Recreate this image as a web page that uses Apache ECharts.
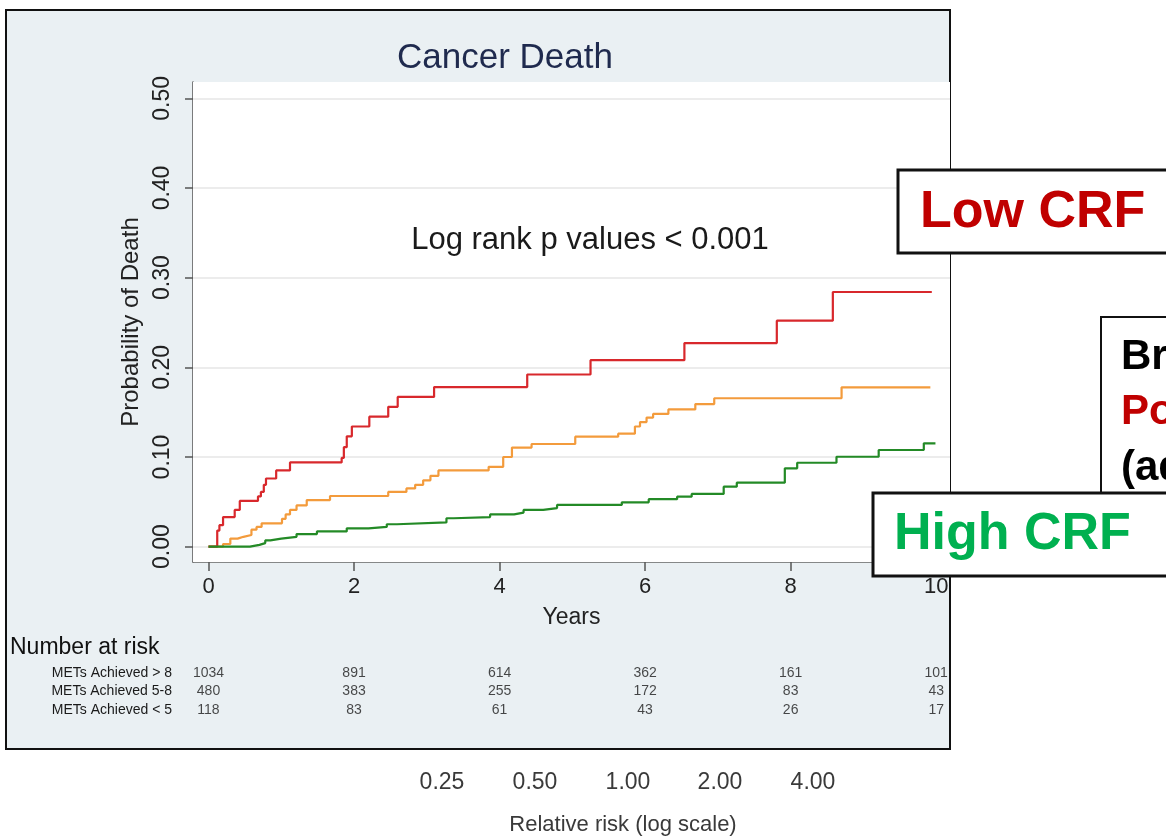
<!DOCTYPE html>
<html>
<head>
<meta charset="utf-8">
<script src="https://cdn.jsdelivr.net/npm/echarts@6/dist/echarts.min.js"></script>
<style>html,body{margin:0;padding:0;background:#fff}#c{width:1166px;height:836px}</style>
</head>
<body>
<div id="c"></div>
<script>
// ---- data ----
const xTicks = [0, 2, 4, 6, 8, 10];
const yTicks = [0, 0.1, 0.2, 0.3, 0.4, 0.5];
const riskGroups = ['METs Achieved > 8', 'METs Achieved 5-8', 'METs Achieved < 5'];
const riskHigh = [1034, 891, 614, 362, 161, 101];
const riskMid = [480, 383, 255, 172, 83, 43];
const riskLow = [118, 83, 61, 43, 26, 17];
const relRiskTicks = ['0.25', '0.50', '1.00', '2.00', '4.00'];

// Kaplan-Meier style cumulative probability of death: [years, probability]
const curveLowMets = [[0,0],[0.12,0.018],[0.15,0.024],[0.20,0.033],[0.36,0.041],[0.43,0.051],[0.68,0.056],[0.72,0.061],[0.76,0.069],[0.79,0.076],[0.93,0.085],[1.12,0.094],[1.83,0.099],[1.86,0.111],[1.90,0.123],[1.97,0.134],[2.21,0.145],[2.47,0.156],[2.60,0.167],[3.10,0.178],[4.38,0.192],[5.25,0.208],[6.54,0.227],[7.81,0.252],[8.58,0.284],[9.94,0.284]];
const curveMidMets = [[0,0],[0.20,0.003],[0.30,0.009],[0.40,0.011],[0.48,0.013],[0.59,0.019],[0.66,0.022],[0.73,0.026],[1.01,0.031],[1.06,0.036],[1.12,0.041],[1.21,0.046],[1.35,0.052],[1.67,0.0565],[2.47,0.061],[2.72,0.065],[2.84,0.069],[2.95,0.074],[3.05,0.079],[3.16,0.085],[3.85,0.089],[4.05,0.100],[4.17,0.1105],[4.44,0.1145],[5.04,0.1227],[5.63,0.126],[5.86,0.134],[5.93,0.139],[6.02,0.144],[6.11,0.148],[6.32,0.153],[6.69,0.159],[6.95,0.1655],[8.70,0.1777],[9.92,0.1777]];
const curveHighMets = [[0,0],[0.57,0.002],[0.70,0.004],[0.78,0.007],[0.85,0.009],[1.00,0.011],[1.21,0.014],[1.49,0.017],[1.90,0.0205],[2.20,0.022],[2.45,0.025],[2.59,0.027],[3.27,0.0317],[3.37,0.033],[3.87,0.036],[4.20,0.038],[4.33,0.041],[4.60,0.043],[4.79,0.0465],[5.68,0.0495],[6.05,0.053],[6.44,0.0557],[6.64,0.0588],[7.08,0.0669],[7.26,0.0714],[7.92,0.0874],[8.09,0.0936],[8.63,0.1003],[9.21,0.1078],[9.83,0.1153],[9.99,0.1153]];

// ---- build ----
const FONT = '"Liberation Sans", Arial, Helvetica, sans-serif';
const X_MIN = -0.213, X_MAX = 10.19;
const Y_MIN = -0.0171, Y_MAX = 0.5182;

const riskRows = [riskHigh, riskMid, riskLow];
const riskData = [];
riskRows.forEach((row, r) => row.forEach((n, i) => riskData.push([xTicks[i], r, n])));

const chart = echarts.init(document.getElementById('c'), null, {renderer: 'canvas'});

const option = {
  backgroundColor: '#ffffff',
  animation: false,
  grid: [
    {left: 193, right: 216, top: 82, bottom: 274, show: true, backgroundColor: '#ffffff', borderWidth: 0, z: 1},
    {left: 193, right: 216, top: 664, height: 55}
  ],
  xAxis: [
    {
      type: 'value', gridIndex: 0, min: X_MIN, max: X_MAX,
      name: 'Years', nameLocation: 'middle', nameGap: 44,
      nameTextStyle: {fontFamily: FONT, fontSize: 23, color: '#222'},
      axisLine: {show: true, onZero: false, lineStyle: {color: '#666', width: 1.5}},
      axisTick: {show: true, length: 9, lineStyle: {color: '#555', width: 1.5}, customValues: xTicks},
      axisLabel: {fontFamily: FONT, fontSize: 22, color: '#222', margin: 14, customValues: xTicks},
      splitLine: {show: false}
    },
    {
      type: 'value', gridIndex: 1, min: X_MIN, max: X_MAX, show: false
    }
  ],
  yAxis: [
    {
      type: 'value', gridIndex: 0, min: Y_MIN, max: Y_MAX,
      name: 'Probability of Death', nameLocation: 'middle', nameGap: 45,
      nameTextStyle: {fontFamily: FONT, fontSize: 24, color: '#222'},
      axisLine: {show: true, onZero: false, lineStyle: {color: '#555', width: 1.5}},
      axisTick: {show: true, length: 8, lineStyle: {color: '#555', width: 1.5}, customValues: yTicks},
      axisLabel: {fontFamily: FONT, fontSize: 23, color: '#222', rotate: 90, margin: 19,
        customValues: yTicks, formatter: v => Number(v).toFixed(2)},
      splitLine: {show: false}
    },
    {
      type: 'category', gridIndex: 1, data: riskGroups, inverse: true,
      axisLine: {show: false}, axisTick: {show: false}, splitLine: {show: false},
      axisLabel: {fontFamily: FONT, fontSize: 14, color: '#1a1a1a', margin: 21}
    }
  ],
  series: [
    {type: 'line', name: 'METs Achieved < 5', xAxisIndex: 0, yAxisIndex: 0, step: 'end', data: curveLowMets,
      showSymbol: false, lineStyle: {color: '#d8282c', width: 2.2}, z: 5,
      markLine: {silent: true, symbol: 'none', label: {show: false}, z: 2,
        lineStyle: {color: '#e6e6e6', width: 1.5, type: 'solid'},
        data: yTicks.map(v => ({yAxis: v}))}},
    {type: 'line', name: 'METs Achieved 5-8', xAxisIndex: 0, yAxisIndex: 0, step: 'end', data: curveMidMets,
      showSymbol: false, lineStyle: {color: '#f39b3c', width: 2.2}, z: 4},
    {type: 'line', name: 'METs Achieved > 8', xAxisIndex: 0, yAxisIndex: 0, step: 'end', data: curveHighMets,
      showSymbol: false, lineStyle: {color: '#238a26', width: 2.2}, z: 6},
    {type: 'scatter', name: 'Number at risk', xAxisIndex: 1, yAxisIndex: 1, data: riskData,
      symbolSize: 0.1, itemStyle: {color: 'transparent'},
      label: {show: true, position: 'inside', formatter: p => String(p.value[2]),
        fontFamily: FONT, fontSize: 14, color: '#1a1a1a'}}
  ],
  graphic: [
    // panel background and border
    {type: 'rect', z: -10, shape: {x: 6, y: 10, width: 944, height: 739},
      style: {fill: '#eaf0f3', stroke: '#111', lineWidth: 2}},
    {type: 'text', z: 10, style: {text: 'Cancer Death', x: 505, y: 58, align: 'center', verticalAlign: 'middle',
      font: '35px ' + FONT, fill: '#1f2a4e'}},
    {type: 'text', z: 10, style: {text: 'Log rank p values < 0.001', x: 590, y: 240, align: 'center', verticalAlign: 'middle',
      font: '31px ' + FONT, fill: '#1a1a1a'}},
    {type: 'text', z: 10, style: {text: 'Number at risk', x: 10, y: 648, align: 'left', verticalAlign: 'middle',
      font: '23px ' + FONT, fill: '#111'}},
    // remnants below the panel
    ...relRiskTicks.map((t, i) => ({type: 'text', z: 10,
      style: {text: t, x: [442, 535, 628, 720, 813][i], y: 783, align: 'center', verticalAlign: 'middle',
        font: '23px ' + FONT, fill: '#3a3a3a'}})),
    {type: 'text', z: 10, style: {text: 'Relative risk (log scale)', x: 623, y: 825, align: 'center', verticalAlign: 'middle',
      font: '22px ' + FONT, fill: '#3a3a3a'}},
    // annotation boxes on the right
    {type: 'rect', z: 100, shape: {x: 898, y: 170, width: 300, height: 83},
      style: {fill: '#fff', stroke: '#111', lineWidth: 3}},
    {type: 'text', z: 101, style: {text: 'Low CRF', x: 920, y: 213, align: 'left', verticalAlign: 'middle',
      font: 'bold 52px ' + FONT, fill: '#c00000'}},
    {type: 'rect', z: 100, shape: {x: 1101, y: 317, width: 100, height: 200},
      style: {fill: '#fff', stroke: '#111', lineWidth: 2}},
    {type: 'text', z: 101, style: {text: 'Br', x: 1121, y: 357, align: 'left', verticalAlign: 'middle',
      font: 'bold 42px ' + FONT, fill: '#000'}},
    {type: 'text', z: 101, style: {text: 'Po', x: 1121, y: 412, align: 'left', verticalAlign: 'middle',
      font: 'bold 42px ' + FONT, fill: '#c00000'}},
    {type: 'text', z: 101, style: {text: '(ad', x: 1121, y: 468, align: 'left', verticalAlign: 'middle',
      font: 'bold 42px ' + FONT, fill: '#000'}},
    {type: 'rect', z: 102, shape: {x: 873, y: 493, width: 400, height: 83},
      style: {fill: '#fff', stroke: '#111', lineWidth: 3}},
    {type: 'text', z: 103, style: {text: 'High CRF', x: 894, y: 535, align: 'left', verticalAlign: 'middle',
      font: 'bold 52px ' + FONT, fill: '#00b050'}}
  ]
};
chart.setOption(option);
</script>
</body>
</html>
